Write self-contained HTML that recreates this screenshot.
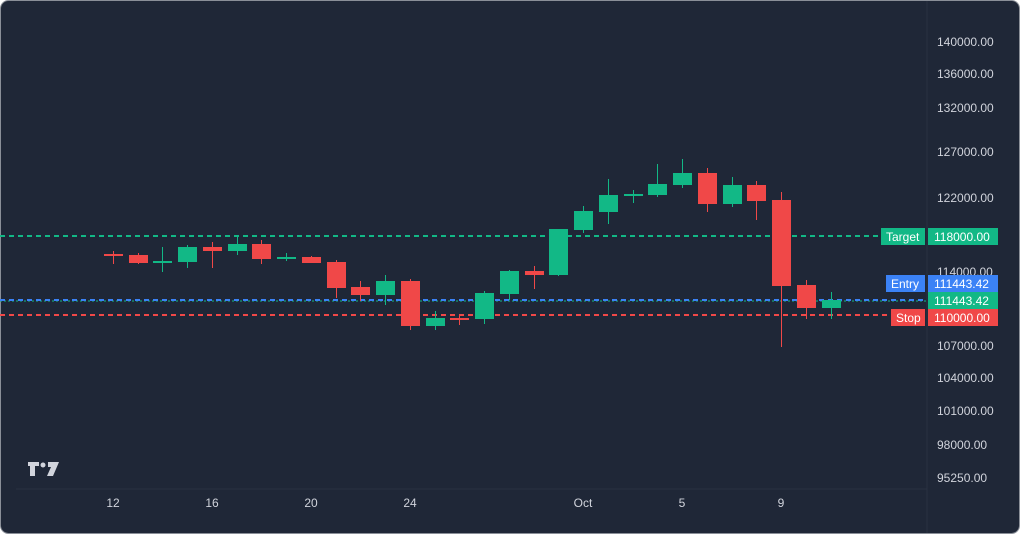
<!DOCTYPE html>
<html><head><meta charset="utf-8"><style>
html,body{margin:0;padding:0;background:#fff;}
svg{display:block;}
text{font-family:"Liberation Sans",sans-serif;font-size:12px;fill:#d1d4dc;}
.w{fill:#fff}
</style></head><body>
<svg width="1020" height="534" xmlns="http://www.w3.org/2000/svg">
<rect x="0.5" y="0.5" width="1019" height="533" rx="8" fill="#1f2737" stroke="#8a8f98"/>
<line x1="927" y1="1" x2="927" y2="533" stroke="#2a3242"/>
<line x1="16" y1="489" x2="927" y2="489" stroke="#2a3242"/>
<g shape-rendering="crispEdges">
<line x1="0" y1="236" x2="927" y2="236" stroke="#12b886" stroke-width="2" stroke-dasharray="5,4"/>
<line x1="0" y1="301" x2="927" y2="301" stroke="#12b886" stroke-width="1" stroke-dasharray="2,2"/>
<line x1="0" y1="300" x2="927" y2="300" stroke="#3b82f6" stroke-width="2" stroke-dasharray="5,4"/>
<line x1="0" y1="315" x2="927" y2="315" stroke="#f04848" stroke-width="2" stroke-dasharray="5,4"/>
</g>
<g shape-rendering="crispEdges">
<g fill="#f04848">
<rect x="113" y="251" width="1" height="13"/><rect x="104" y="254" width="19" height="2"/>
<rect x="138" y="253" width="1" height="11"/><rect x="129" y="255" width="19" height="8"/>
<rect x="212" y="242" width="1" height="26"/><rect x="203" y="247" width="19" height="4"/>
<rect x="261" y="240" width="1" height="24"/><rect x="252" y="244" width="19" height="15"/>
<rect x="311" y="256" width="1" height="7"/><rect x="302" y="257" width="19" height="6"/>
<rect x="336" y="260" width="1" height="38"/><rect x="327" y="262" width="19" height="26"/>
<rect x="360" y="281" width="1" height="20"/><rect x="351" y="287" width="19" height="8"/>
<rect x="410" y="279" width="1" height="51"/><rect x="401" y="281" width="19" height="45"/>
<rect x="459" y="316" width="1" height="9"/><rect x="450" y="318" width="19" height="2"/>
<rect x="534" y="266" width="1" height="23"/><rect x="525" y="271" width="19" height="4"/>
<rect x="707" y="168" width="1" height="44"/><rect x="698" y="173" width="19" height="31"/>
<rect x="756" y="181" width="1" height="39"/><rect x="747" y="185" width="19" height="16"/>
<rect x="781" y="192" width="1" height="155"/><rect x="772" y="200" width="19" height="86"/>
<rect x="806" y="280" width="1" height="39"/><rect x="797" y="285" width="19" height="23"/>
</g>
<g fill="#12b886">
<rect x="162" y="247" width="1" height="25"/><rect x="153" y="261" width="19" height="2"/>
<rect x="187" y="245" width="1" height="23"/><rect x="178" y="247" width="19" height="15"/>
<rect x="237" y="236" width="1" height="19"/><rect x="228" y="244" width="19" height="7"/>
<rect x="286" y="253" width="1" height="8"/><rect x="277" y="257" width="19" height="2"/>
<rect x="385" y="275" width="1" height="30"/><rect x="376" y="281" width="19" height="14"/>
<rect x="435" y="311" width="1" height="19"/><rect x="426" y="318" width="19" height="8"/>
<rect x="484" y="291" width="1" height="33"/><rect x="475" y="293" width="19" height="26"/>
<rect x="509" y="270" width="1" height="30"/><rect x="500" y="271" width="19" height="23"/>
<rect x="558" y="229" width="1" height="47"/><rect x="549" y="229" width="19" height="46"/>
<rect x="583" y="206" width="1" height="27"/><rect x="574" y="211" width="19" height="19"/>
<rect x="608" y="179" width="1" height="45"/><rect x="599" y="195" width="19" height="17"/>
<rect x="633" y="190" width="1" height="13"/><rect x="624" y="194" width="19" height="2"/>
<rect x="657" y="164" width="1" height="33"/><rect x="648" y="184" width="19" height="11"/>
<rect x="682" y="159" width="1" height="29"/><rect x="673" y="173" width="19" height="12"/>
<rect x="732" y="177" width="1" height="30"/><rect x="723" y="185" width="19" height="19"/>
<rect x="831" y="292" width="1" height="27"/><rect x="822" y="300" width="19" height="8"/>
</g>
</g>
<g>
<text x="937" y="46">140000.00</text>
<text x="937" y="78">136000.00</text>
<text x="937" y="112">132000.00</text>
<text x="937" y="156">127000.00</text>
<text x="937" y="202">122000.00</text>
<text x="937" y="276">114000.00</text>
<text x="937" y="350">107000.00</text>
<text x="937" y="382">104000.00</text>
<text x="937" y="415">101000.00</text>
<text x="937" y="449">98000.00</text>
<text x="937" y="482">95250.00</text>
</g>
<rect x="928" y="228" width="70" height="17" fill="#12b886"/><text x="934" y="241" class="w">118000.00</text>
<rect x="881" y="228" width="44" height="17" fill="#12b886"/><text x="886" y="241" class="w">Target</text>
<rect x="928" y="275" width="70" height="17" fill="#3b82f6"/><text x="934" y="288" class="w">111443.42</text>
<rect x="886" y="275" width="39" height="17" fill="#3b82f6"/><text x="891" y="288" class="w">Entry</text>
<rect x="928" y="292" width="70" height="17" fill="#12b886"/><text x="934" y="305" class="w">111443.42</text>
<rect x="928" y="309" width="70" height="17" fill="#f04848"/><text x="934" y="322" class="w">110000.00</text>
<rect x="891" y="309" width="34" height="17" fill="#f04848"/><text x="896" y="322" class="w">Stop</text>
<g text-anchor="middle">
<text x="113" y="507">12</text><text x="212" y="507">16</text><text x="311" y="507">20</text><text x="410" y="507">24</text><text x="583" y="507">Oct</text><text x="682" y="507">5</text><text x="781" y="507">9</text>
</g>
<g fill="#d1d4dc">
<path d="M28 462h11v4h-4v10h-5v-10h-2z"/><circle cx="43" cy="465" r="2.5"/><path d="M48 462h11l-6 14h-6l4-9h-3z"/>
</g>
</svg>
</body></html>
